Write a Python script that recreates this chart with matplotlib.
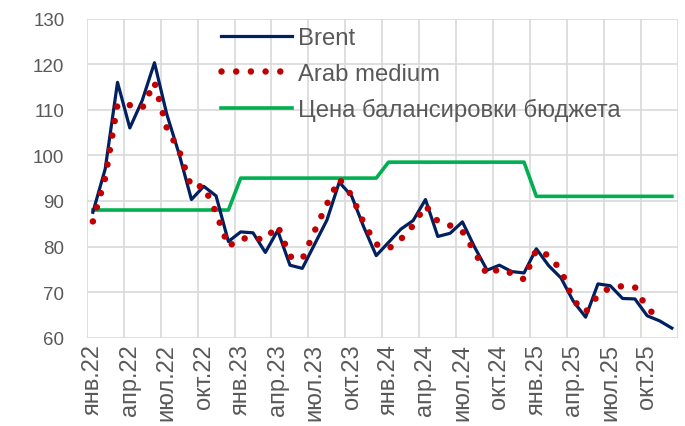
import matplotlib
matplotlib.use('Agg')
import matplotlib.pyplot as plt
import numpy as np

# monthly data, Jan 2022 - Dec 2025
tick_labels = ['янв.22', 'апр.22', 'июл.22', 'окт.22',
               'янв.23', 'апр.23', 'июл.23', 'окт.23',
               'янв.24', 'апр.24', 'июл.24', 'окт.24',
               'янв.25', 'апр.25', 'июл.25', 'окт.25']

brent = [87.5, 97.0, 116.0, 106.0, 112.0, 120.3, 109.0, 100.3, 90.3, 93.2, 91.1, 81.1,
         83.2, 83.0, 78.7, 83.5, 75.9, 75.2, 80.5, 85.8, 94.1, 91.1, 84.2, 78.0,
         80.9, 83.8, 85.7, 90.3, 82.2, 82.9, 85.4, 79.8, 74.8, 75.9, 74.5, 74.2,
         79.5, 75.8, 73.1, 68.0, 64.5, 71.8, 71.4, 68.6, 68.5, 64.8, 63.7, 62.1]

arab_medium = [85.5, 95.0, 111.2, 111.0, 110.3, 116.0, 106.0, 101.0, 93.0, 93.3, 87.4, 80.0,
               81.8, 81.7, 81.6, 84.6, 77.8, 77.2, 83.4, 89.3, 94.8, 91.2, 85.1, 80.5,
               79.5, 81.6, 84.6, 89.0, 85.5, 84.6, 83.3, 78.8, 73.8, 75.1, 74.1, 72.8,
               79.3, 78.0, 74.8, 68.2, 65.6, 69.3, 71.0, 71.3, 71.1, 66.4, 64.3, np.nan]

budget_price = [88, 88, 88, 88, 88, 88, 88, 88, 88, 88, 88, 88,
                95, 95, 95, 95, 95, 95, 95, 95, 95, 95, 95, 95,
                98.5, 98.5, 98.5, 98.5, 98.5, 98.5, 98.5, 98.5, 98.5, 98.5, 98.5, 98.5,
                91, 91, 91, 91, 91, 91, 91, 91, 91, 91, 91, 91]


def main():
    plt.rcParams['font.family'] = ['Liberation Sans', 'DejaVu Sans']
    fs_y = 13.5   # y tick labels
    fs_x = 17     # x tick labels
    fs_leg = 17.2
    grey = '#595959'

    fig = plt.figure(figsize=(6.85, 4.27), dpi=100)
    ax = fig.add_axes([0.1266, 0.2068, 0.8632, 0.7475])

    x = np.arange(len(brent))
    ax.plot(x, brent, color='#002060', lw=2.3, label='Brent', zorder=4,
            solid_joinstyle='round')
    ax.plot(x, arab_medium, color='#C00000', lw=4.7, linestyle=(0, (0.001, 2.25)),
            dash_capstyle='round', label='Arab medium', zorder=5)
    ax.plot(x, budget_price, color='#00B050', lw=2.6, label='Цена балансировки бюджета',
            zorder=3)

    ax.set_xlim(-0.5, len(brent) - 0.5)
    ax.set_ylim(60, 130)
    ax.set_yticks(range(60, 131, 10))

    # vertical grid between quarters, labels under month centres
    ax.set_xticks(np.arange(-0.5, len(brent), 3), minor=True)
    ax.set_xticks(np.arange(0, len(brent), 3))
    ax.set_xticklabels(tick_labels, rotation=90)
    ax.grid(True, which='minor', axis='x', color='#D9D9D9', lw=1.2)
    ax.grid(True, which='major', axis='y', color='#D9D9D9', lw=1.2)
    ax.set_axisbelow(True)
    ax.tick_params(axis='both', which='both', length=0, labelcolor=grey)
    ax.tick_params(axis='y', pad=16, labelsize=fs_y)
    ax.tick_params(axis='x', pad=4, labelsize=fs_x)
    for s in ax.spines.values():
        s.set_visible(False)

    leg = ax.legend(loc='upper left', bbox_to_anchor=(0.3226, 0.934),
                    bbox_transform=fig.transFigure, frameon=False, fontsize=fs_leg,
                    borderaxespad=0, borderpad=0,
                    handlelength=2.97, handletextpad=0.25, labelspacing=0.565)
    for t in leg.get_texts():
        t.set_color(grey)

    fig.savefig('out.png', dpi=100)


if __name__ == '__main__':
    main()
